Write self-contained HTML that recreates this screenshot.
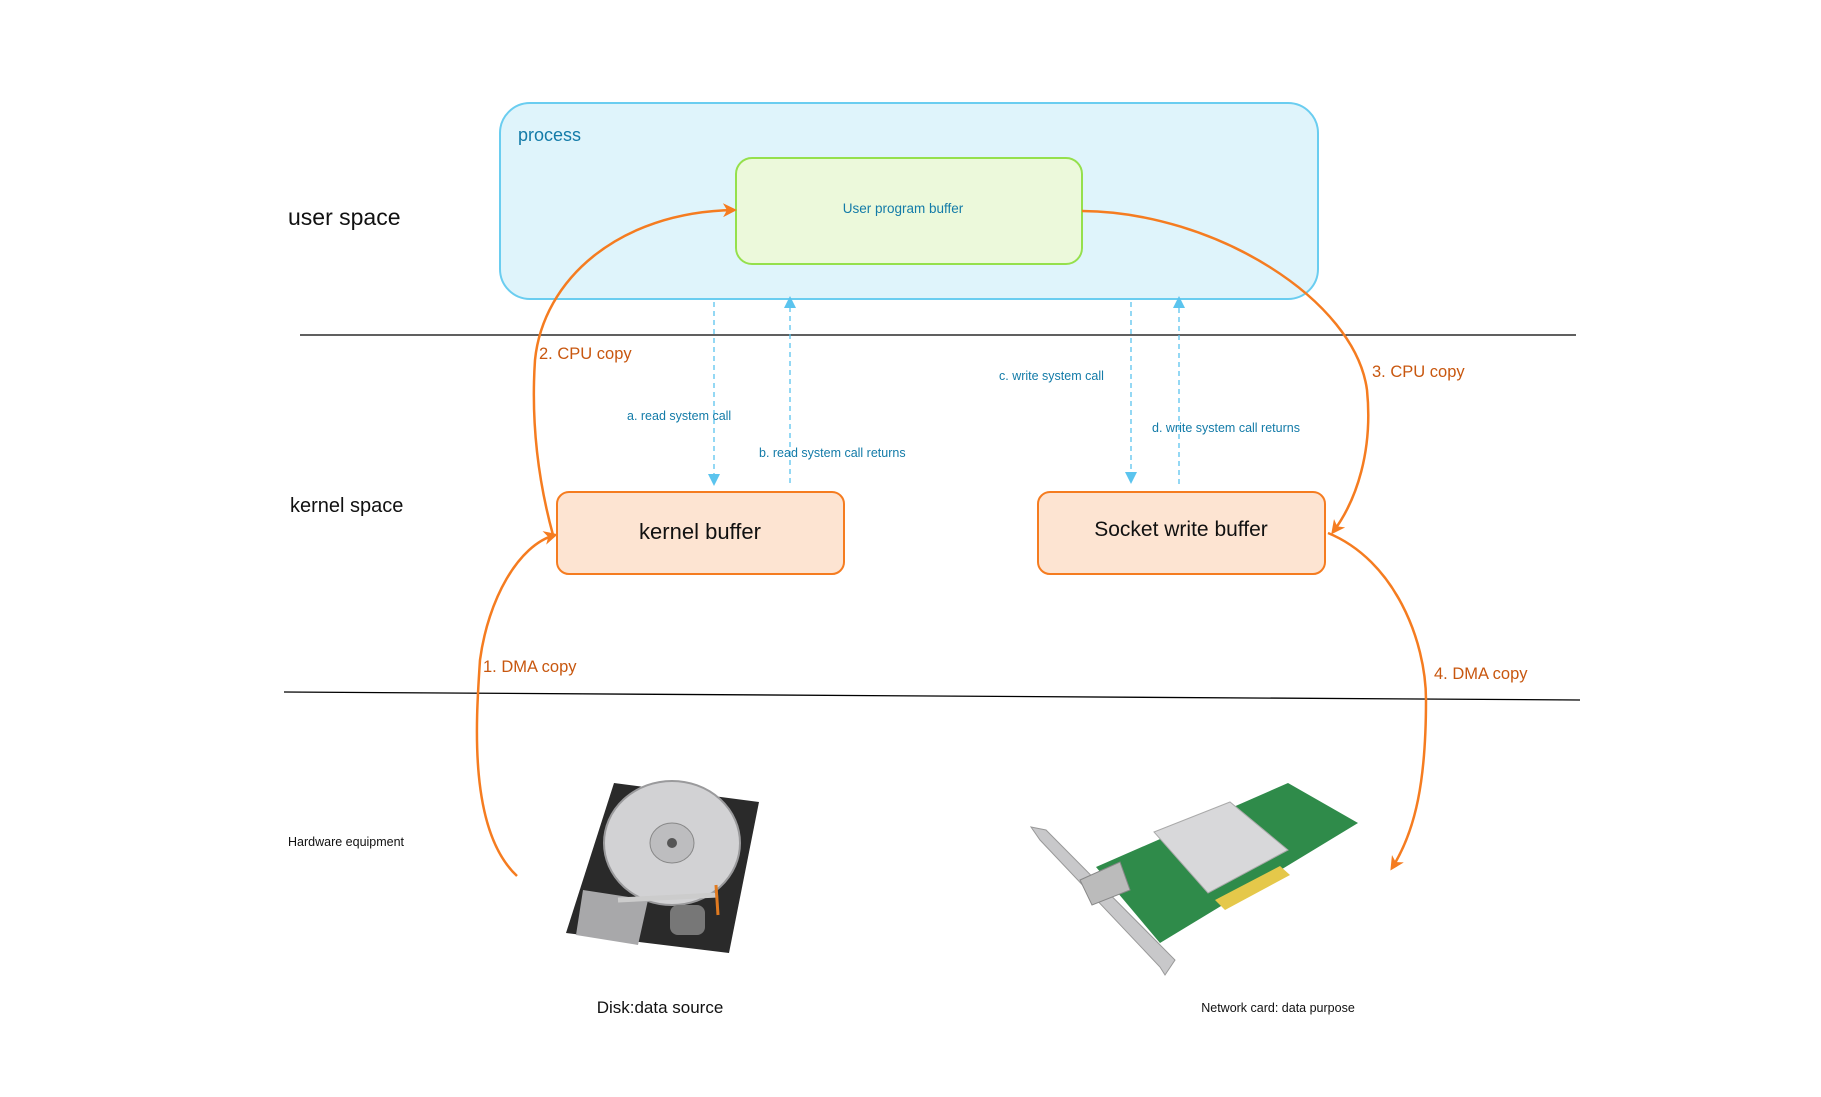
<!DOCTYPE html>
<html><head><meta charset="utf-8"><style>
html,body{margin:0;padding:0;background:#fff;}
svg{display:block;}
text{font-family:"Liberation Sans",sans-serif;}
</style></head><body>
<svg width="1821" height="1097" viewBox="0 0 1821 1097" xmlns="http://www.w3.org/2000/svg">
<defs>
<marker id="ao" markerWidth="14" markerHeight="14" refX="11" refY="7" orient="auto" markerUnits="userSpaceOnUse"><path d="M0,0 L14,7 L0,14 L4,7 Z" fill="#f57c20"/></marker>
<marker id="ab" markerWidth="12" markerHeight="12" refX="10" refY="6" orient="auto" markerUnits="userSpaceOnUse"><path d="M0,0 L12,6 L0,12 Z" fill="#5bc4ee"/></marker>
</defs>
<rect width="1821" height="1097" fill="#fff"/>
<rect x="500" y="103" width="818" height="196" rx="30" fill="#dff4fb" stroke="#6acdf0" stroke-width="2"/>
<text x="518" y="141" font-size="18" fill="#137ba8">process</text>
<rect x="736" y="158" width="346" height="106" rx="16" fill="#ecf9db" stroke="#95e04c" stroke-width="2"/>
<text x="903" y="213" font-size="13.5" fill="#137ba8" text-anchor="middle">User program buffer</text>
<text x="288" y="225" font-size="23" fill="#111">user space</text>
<line x1="300" y1="335" x2="1576" y2="335" stroke="#000" stroke-width="1.3"/>
<text x="290" y="512" font-size="20" fill="#111">kernel space</text>
<rect x="557" y="492" width="287" height="82" rx="12" fill="#fde4d2" stroke="#f57c20" stroke-width="2"/>
<text x="700" y="539" font-size="22" fill="#111" text-anchor="middle">kernel buffer</text>
<rect x="1038" y="492" width="287" height="82" rx="12" fill="#fde4d2" stroke="#f57c20" stroke-width="2"/>
<text x="1181" y="536" font-size="21" fill="#111" text-anchor="middle">Socket write buffer</text>
<line x1="284" y1="692" x2="1580" y2="700" stroke="#000" stroke-width="1.3"/>
<text x="288" y="846" font-size="12.5" fill="#111">Hardware equipment</text>
<text x="660" y="1013" font-size="17" fill="#111" text-anchor="middle">Disk:data source</text>
<text x="1278" y="1012" font-size="12.5" fill="#111" text-anchor="middle">Network card: data purpose</text>
<g stroke="#5bc4ee" stroke-width="1.3" stroke-dasharray="5,4" fill="none">
<line x1="714" y1="302" x2="714" y2="484" marker-end="url(#ab)"/>
<line x1="790" y1="483" x2="790" y2="298" marker-end="url(#ab)"/>
<line x1="1131" y1="302" x2="1131" y2="482" marker-end="url(#ab)"/>
<line x1="1179" y1="484" x2="1179" y2="298" marker-end="url(#ab)"/>
</g>
<g font-size="12.5" fill="#137ba8">
<text x="627" y="420">a. read system call</text>
<text x="759" y="457">b. read system call returns</text>
<text x="999" y="380">c. write system call</text>
<text x="1152" y="432">d. write system call returns</text>
</g>
<g stroke="#f57c20" stroke-width="2.5" fill="none">
<path d="M553,535 C538,480 531,420 535,360 C543,280 618,212 734,210" marker-end="url(#ao)"/>
<path d="M1082,211 C1215,212 1355,300 1367,390 C1373,450 1357,500 1333,532" marker-end="url(#ao)"/>
<path d="M517,876 C468,830 476,720 480,660 C488,600 518,545 555,535" marker-end="url(#ao)"/>
<path d="M1328,533 C1394,560 1426,640 1426,700 C1426,780 1416,830 1392,868" marker-end="url(#ao)"/>
</g>
<g font-size="16.5" fill="#c8570f">
<text x="539" y="359">2. CPU copy</text>
<text x="1372" y="377">3. CPU copy</text>
<text x="483" y="672">1. DMA copy</text>
<text x="1434" y="679">4. DMA copy</text>
</g>
<polygon points="614,783 759,802 729,953 566,933" fill="#2a2a2a"/>
<ellipse cx="672" cy="843" rx="68" ry="62" fill="#d2d2d4" stroke="#9a9a9c" stroke-width="2"/>
<ellipse cx="672" cy="843" rx="22" ry="20" fill="#bdbdbf" stroke="#888"/>
<circle cx="672" cy="843" r="5" fill="#555"/>
<polygon points="583,890 648,900 638,945 576,935" fill="#a8a8aa"/>
<rect x="670" y="905" width="35" height="30" rx="8" fill="#777"/>
<line x1="618" y1="900" x2="718" y2="895" stroke="#ccc" stroke-width="5"/>
<line x1="716" y1="885" x2="718" y2="915" stroke="#e07a20" stroke-width="3"/>
<polygon points="1031,827 1046,830 1175,960 1165,975 1160,967 1040,840" fill="#c8c8ca" stroke="#999"/>
<polygon points="1096,867 1288,783 1358,823 1160,943" fill="#2f8b4a"/>
<polygon points="1154,832 1230,802 1288,850 1208,893" fill="#d8d8da" stroke="#aaa"/>
<polygon points="1215,900 1280,866 1290,875 1225,910" fill="#e5c84a"/>
<polygon points="1080,880 1120,862 1130,890 1092,905" fill="#bbb" stroke="#888"/>
</svg>
</body></html>
